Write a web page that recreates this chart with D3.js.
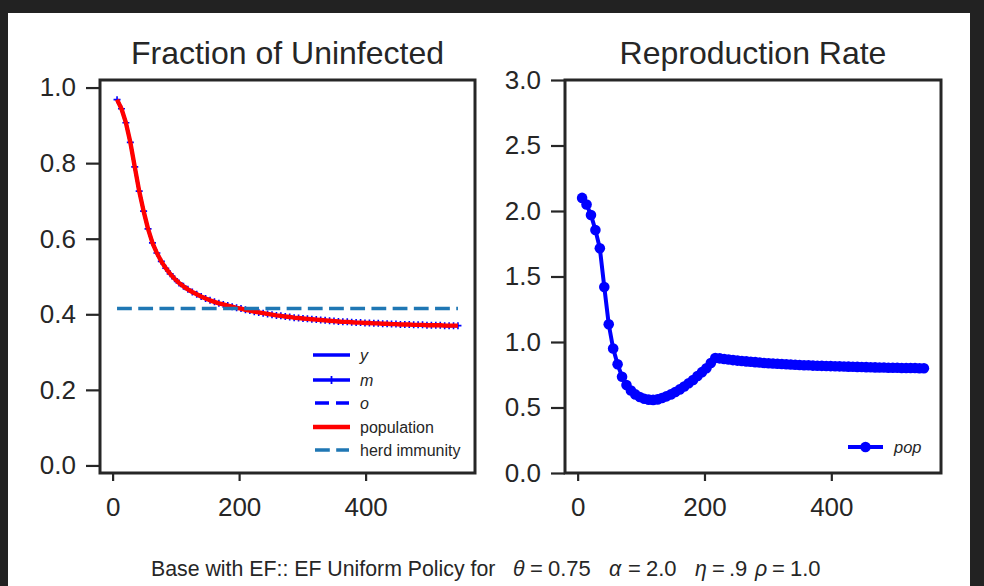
<!DOCTYPE html>
<html>
<head>
<meta charset="utf-8">
<script src="https://cdn.jsdelivr.net/npm/d3@7"></script>
<style>
  html, body { margin: 0; padding: 0; background: #222222; }
  svg { display: block; }
  text { font-family: "Liberation Sans", Arial, sans-serif; fill: #262626; }
</style>
</head>
<body>
<script>
// ---------------- data ----------------
const days = [7,14,21,28,35,42,49,56,63,70,77,84,91,98,105,112,119,126,133,140,147,154,161,168,175,182,189,196,203,210,217,224,231,238,245,252,259,266,273,280,287,294,301,308,315,322,329,336,343,350,357,364,371,378,385,392,399,406,413,420,427,434,441,448,455,462,469,476,483,490,497,504,511,518,525,532,539,546];

const fracPopulation = [0.968,0.944,0.907,0.855,0.790,0.726,0.673,0.626,0.589,0.562,0.540,0.522,0.507,0.494,0.483,0.474,0.466,0.459,0.453,0.447,0.442,0.437,0.433,0.429,0.426,0.423,0.420,0.417,0.415,0.412,0.410,0.407,0.405,0.403,0.401,0.399,0.397,0.396,0.394,0.393,0.391,0.390,0.389,0.388,0.387,0.386,0.385,0.384,0.383,0.382,0.381,0.380,0.380,0.379,0.378,0.378,0.377,0.377,0.376,0.376,0.375,0.375,0.374,0.374,0.373,0.373,0.373,0.372,0.372,0.372,0.371,0.371,0.371,0.371,0.370,0.370,0.370,0.370];
const fracYoung  = fracPopulation.slice();
const fracMiddle = fracPopulation.slice();
const fracOld    = fracPopulation.slice();
const herdImmunity = 0.415;

const reproPop = [2.10,2.05,1.97,1.855,1.715,1.42,1.135,0.95,0.83,0.735,0.672,0.63,0.60,0.58,0.567,0.56,0.558,0.562,0.572,0.585,0.60,0.618,0.638,0.66,0.685,0.71,0.74,0.77,0.80,0.84,0.878,0.875,0.87,0.866,0.862,0.858,0.855,0.852,0.849,0.846,0.843,0.84,0.838,0.836,0.834,0.832,0.83,0.828,0.826,0.825,0.823,0.822,0.82,0.819,0.818,0.817,0.816,0.815,0.814,0.813,0.812,0.811,0.810,0.809,0.808,0.807,0.806,0.805,0.805,0.804,0.803,0.803,0.802,0.802,0.801,0.801,0.800,0.800];

const xTicks = [0, 200, 400];
const yTicksLeft = [0.0, 0.2, 0.4, 0.6, 0.8, 1.0];
const yTicksRight = [0.0, 0.5, 1.0, 1.5, 2.0, 2.5, 3.0];

const titles = ["Fraction of Uninfected", "Reproduction Rate"];
const legendLeft = [
  {label: "y", italic: true, kind: "solid", color: "#0000ff"},
  {label: "m", italic: true, kind: "plus", color: "#0000ff"},
  {label: "o", italic: true, kind: "dash", color: "#0000ff"},
  {label: "population", italic: false, kind: "solid", color: "#ff0000"},
  {label: "herd immunity", italic: false, kind: "herd", color: "#1f77b4"}
];

// ---------------- drawing ----------------
const W = 984, H = 586;
const svg = d3.select("body").append("svg").attr("width", W).attr("height", H);
svg.append("rect").attr("x", 0).attr("y", 0).attr("width", W).attr("height", H).attr("fill", "#222222");
svg.append("rect").attr("x", 8).attr("y", 13).attr("width", 962).attr("height", H - 13).attr("fill", "#ffffff");

const ink = "#262626";
const xDomain = [-19.95, 572.95];

function panel(x0, x1, yDomain, yTicks, title) {
  const top = 80, bottom = 473;
  const x = d3.scaleLinear().domain(xDomain).range([x0, x1]);
  const y = d3.scaleLinear().domain(yDomain).range([bottom, top]);
  const g = svg.append("g");
  const xa = g.append("g").attr("transform", `translate(0,${bottom})`)
    .call(d3.axisBottom(x).tickValues(xTicks).tickFormat(d3.format("d")).tickSize(8).tickPadding(17));
  const ya = g.append("g").attr("transform", `translate(${x0},0)`)
    .call(d3.axisLeft(y).tickValues(yTicks).tickFormat(d3.format(".1f")).tickSize(14).tickPadding(10));
  [xa, ya].forEach(a => {
    a.select(".domain").remove();
    a.selectAll("line").attr("stroke", ink).attr("stroke-width", 2.2);
    a.selectAll("text").style("font-size", "26px").attr("fill", ink).style("font-family", "'Liberation Sans', Arial, sans-serif");
  });
  g.append("text").attr("x", (x0 + x1) / 2).attr("y", 64).attr("text-anchor", "middle")
    .style("font-size", "32px").text(title);
  const plot = g.append("g");
  g.append("rect").attr("x", x0).attr("y", top).attr("width", x1 - x0).attr("height", bottom - top)
    .attr("fill", "none").attr("stroke", ink).attr("stroke-width", 3);
  return {x, y, plot};
}

// Left panel
const L = panel(100, 475, [-0.02, 1.02], yTicksLeft, titles[0]);
const lineL = (vals) => d3.line().x((d, i) => L.x(days[i])).y(d => L.y(d))(vals);

L.plot.append("path").attr("d", lineL(fracYoung)).attr("fill", "none").attr("stroke", "#0000ff").attr("stroke-width", 3);
L.plot.append("path").attr("d", lineL(fracMiddle)).attr("fill", "none").attr("stroke", "#0000ff").attr("stroke-width", 3);
L.plot.selectAll(".plus").data(fracMiddle).enter().append("path")
  .attr("d", (d, i) => { const cx = L.x(days[i]), cy = L.y(d), r = 3.5; return `M${cx - r},${cy}H${cx + r}M${cx},${cy - r}V${cy + r}`; })
  .attr("stroke", "#0000ff").attr("stroke-width", 1.6);
L.plot.append("path").attr("d", lineL(fracOld)).attr("fill", "none").attr("stroke", "#0000ff").attr("stroke-width", 3).attr("stroke-dasharray", "14,6");
L.plot.append("path").attr("d", lineL(fracPopulation)).attr("fill", "none").attr("stroke", "#ff0000").attr("stroke-width", 4.4).attr("stroke-linejoin", "round");
L.plot.append("line").attr("x1", L.x(days[0])).attr("x2", L.x(days[days.length - 1]))
  .attr("y1", L.y(herdImmunity)).attr("y2", L.y(herdImmunity))
  .attr("stroke", "#1f77b4").attr("stroke-width", 3.5).attr("stroke-dasharray", "14.8,6.4");

// Left legend
const lg = L.plot.append("g");
const legY = [355, 380, 403, 427, 450];
legendLeft.forEach((e, i) => {
  const yy = legY[i];
  const ln = lg.append("line").attr("x1", 313).attr("x2", 350).attr("y1", yy).attr("y2", yy)
    .attr("stroke", e.color).attr("stroke-width", e.color === "#ff0000" ? 4.4 : 3.6);
  if (e.kind === "dash") ln.attr("stroke-dasharray", "14,7").attr("x1", 315).attr("x2", 349);
  if (e.kind === "herd") ln.attr("stroke-dasharray", "14.8,6.4").attr("x1", 315).attr("x2", 349);
  if (e.kind === "plus") lg.append("path").attr("d", `M331.5,${yy - 4}V${yy + 4}`).attr("stroke", e.color).attr("stroke-width", 1.8);
  lg.append("text").attr("x", 360).attr("y", yy + 5.5).style("font-size", "16px")
    .style("font-style", e.italic ? "italic" : "normal").attr("fill", "#333333").text(e.label);
});

// Right panel
const R = panel(565, 941, [0, 3], yTicksRight, titles[1]);
const lineR = d3.line().x((d, i) => R.x(days[i])).y(d => R.y(d));
R.plot.append("path").attr("d", lineR(reproPop)).attr("fill", "none").attr("stroke", "#0000ff").attr("stroke-width", 4);
R.plot.selectAll("circle").data(reproPop).enter().append("circle")
  .attr("cx", (d, i) => R.x(days[i])).attr("cy", d => R.y(d)).attr("r", 5.3).attr("fill", "#0000ff");
// Right legend
R.plot.append("line").attr("x1", 848).attr("x2", 883).attr("y1", 447).attr("y2", 447).attr("stroke", "#0000ff").attr("stroke-width", 4);
R.plot.append("circle").attr("cx", 865.5).attr("cy", 447).attr("r", 5.3).attr("fill", "#0000ff");
R.plot.append("text").attr("x", 894).attr("y", 452.5).style("font-size", "16.5px").style("font-style", "italic").attr("fill", "#333333").text("pop");

// Footer
const foot = svg.append("g").style("font-size", "21.3px");
const footY = 576;
foot.append("text").attr("x", 151).attr("y", footY).text("Base with EF:: EF Uniform Policy for");
const mathTokens = [
  {t: "θ", x: 513, it: true}, {t: "=", x: 530, it: false}, {t: "0.75", x: 548, it: false},
  {t: "α", x: 609, it: true}, {t: "=", x: 628, it: false}, {t: "2.0", x: 646, it: false},
  {t: "η", x: 695, it: true}, {t: "=", x: 712, it: false}, {t: ".9", x: 729, it: false},
  {t: "ρ", x: 755, it: true}, {t: "=", x: 772, it: false}, {t: "1.0", x: 790, it: false}
];
mathTokens.forEach(m => {
  foot.append("text").attr("x", m.x).attr("y", footY)
    .style("font-size", m.it ? "21.3px" : "22px")
    .style("font-style", m.it ? "italic" : "normal").text(m.t);
});
</script>
</body>
</html>
